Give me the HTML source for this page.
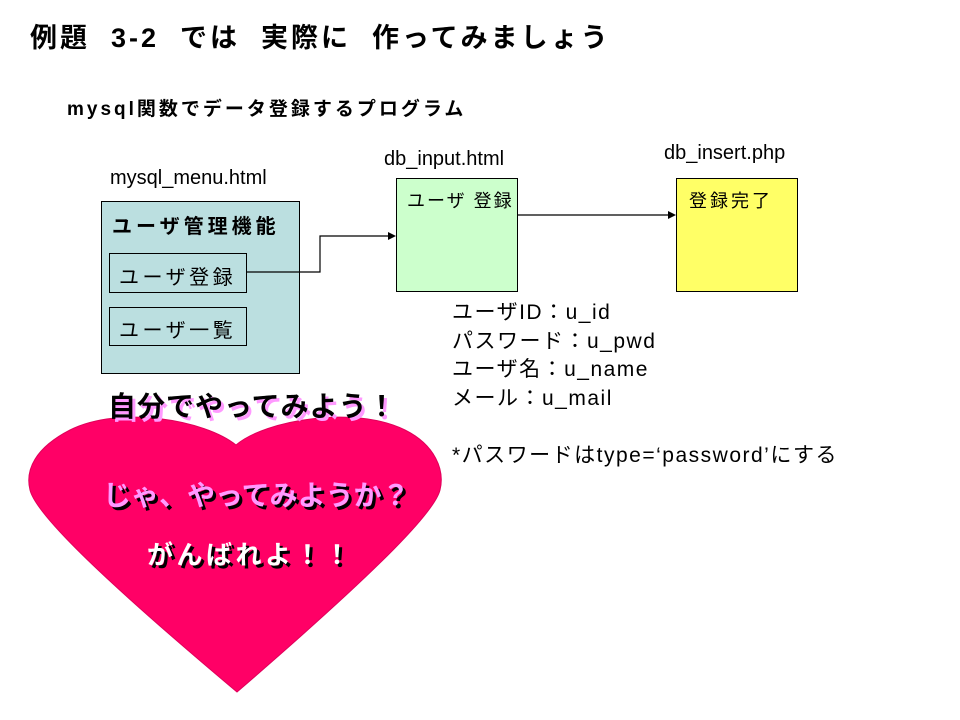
<!DOCTYPE html>
<html><head><meta charset="utf-8"><style>
body{margin:0;width:960px;height:720px;background:#fff;position:relative;overflow:hidden;font-family:"Liberation Sans","Noto Sans CJK JP",sans-serif;}
.a{position:absolute;white-space:nowrap;}
.box{position:absolute;border:1px solid #000;box-sizing:border-box;}
</style></head><body>
<div class="a" style="left:30px;top:16px;font-size:27px;font-weight:bold;letter-spacing:3px;">例題&nbsp; 3-2&nbsp; では&nbsp; 実際に&nbsp; 作ってみましょう</div>
<div class="a" style="left:67px;top:94px;font-size:19px;font-weight:bold;letter-spacing:3px;">mysql関数でデータ登録するプログラム</div>
<div class="a" style="left:110px;top:167px;font-size:20px;">mysql_menu.html</div>
<div class="a" style="left:384px;top:148px;font-size:20px;">db_input.html</div>
<div class="a" style="left:664px;top:142px;font-size:20px;">db_insert.php</div>
<div class="box" style="left:101px;top:201px;width:199px;height:173px;background:#bbdfe0;"></div>
<div class="a" style="left:112px;top:210px;font-size:20px;font-weight:bold;letter-spacing:4px;">ユーザ管理機能</div>
<div class="box" style="left:109px;top:253px;width:138px;height:40px;"></div>
<div class="a" style="left:119px;top:261px;font-size:20px;letter-spacing:3.5px;">ユーザ登録</div>
<div class="box" style="left:109px;top:307px;width:138px;height:39px;"></div>
<div class="a" style="left:119px;top:314px;font-size:20px;letter-spacing:3.5px;">ユーザ一覧</div>
<div class="box" style="left:396px;top:178px;width:122px;height:114px;background:#ccffcc;"></div>
<div class="a" style="left:407px;top:187px;font-size:18px;letter-spacing:2px;">ユーザ 登録</div>
<div class="box" style="left:676px;top:178px;width:122px;height:114px;background:#ffff66;"></div>
<div class="a" style="left:689px;top:187px;font-size:18px;letter-spacing:3px;">登録完了</div>
<svg class="a" style="left:0;top:0" width="960" height="720">
<polyline points="246,272 320,272 320,236 390,236" fill="none" stroke="#000" stroke-width="1.2"/>
<polygon points="396,236 388,232 388,240" fill="#000"/>
<line x1="518" y1="215" x2="670" y2="215" stroke="#000" stroke-width="1.2"/>
<polygon points="676,215 668,211 668,219" fill="#000"/>
<path d="M236,445 C205,420 120,405 70,430 C35,448 25,470 30,490 C35,510 80,560 237,692 C390,560 435,510 440,490 C445,470 435,445 405,430 C355,405 265,420 236,445 Z" fill="#ff0066" stroke="#e0005a" stroke-width="1"/>
</svg>
<div class="a" style="left:452px;top:299px;font-size:21px;line-height:28.5px;letter-spacing:1.5px;">ユーザID：u_id<br>パスワード：u_pwd<br>ユーザ名：u_name<br>メール：u_mail<br><br>*パスワードはtype=‘password’にする</div>
<div class="a" style="left:108px;top:385px;font-size:28px;font-weight:bold;color:#000;letter-spacing:1px;text-shadow:3px 3px 0 #ff99ff;">自分でやってみよう！</div>
<div class="a" style="left:103px;top:474px;font-size:28px;font-weight:bold;color:#ff99ff;text-shadow:3px 3px 0 #000;">じゃ、やってみようか？</div>
<div class="a" style="left:147px;top:535px;font-size:26px;font-weight:bold;color:#fff;letter-spacing:3.5px;text-shadow:3px 3px 0 #000;">がんばれよ！！</div>
</body></html>
